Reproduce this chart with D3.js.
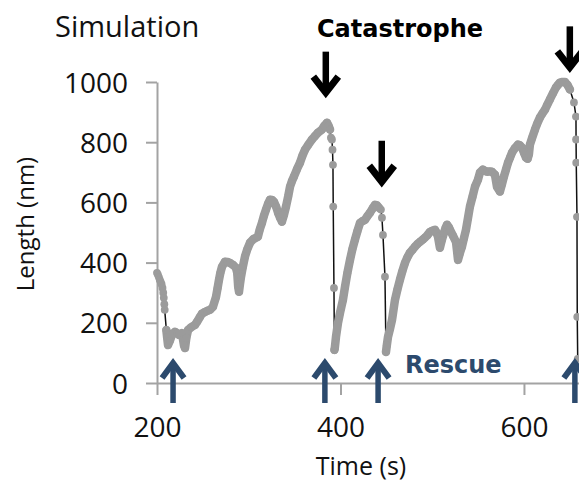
<!DOCTYPE html>
<html>
<head>
<meta charset="utf-8">
<script src="https://cdn.jsdelivr.net/npm/d3@7"></script>
<style>
  html, body { margin: 0; padding: 0; background: #fff; }
  svg { display: block; }
</style>
</head>
<body>
<svg id="chart" width="579" height="483"></svg>
<script>
// ---- data (time in s, length in nm) ----
const shrinkA = [[200,366],[201,360],[202,352],[203,343],[204,336],[205,328],[206,316],[206.8,300],[207.4,283],[208,262],[208.4,243],[210.2,176]];
const growA = [[210.2,176],[211,153],[212,126],[214,140],[216.3,160],[219.6,170],[222,165],[224,160],[227.2,166],[229.4,125],[230.5,116],[232,150],[233.8,176],[237,185],[241.4,193],[244,205],[246.9,220],[249,230],[252.3,236],[255,240],[257.8,243],[261,253],[264.3,286],[266,315],[267.6,343],[269,365],[270.8,386],[274.1,403],[277,402],[279.6,399],[283,392],[286.1,383],[287.5,365],[288.5,320],[289.4,303],[290.5,330],[291.6,353],[293.5,385],[295.9,420],[298.5,445],[301.4,466],[305,478],[310,486],[312,510],[314.4,532],[316.5,555],[318.8,576],[321,595],[323.2,609],[325.5,608],[327.5,602],[330,585],[331.9,566],[334,550],[336.2,536],[338.5,560],[340.6,586],[343,620],[345,652],[347,670],[349.3,686],[352.5,710],[355.9,732],[358.5,755],[361.3,775],[365,792],[368.9,809],[372,820],[375.5,832],[379.8,842],[382.5,855],[385.3,865],[387,855],[388.6,842]];
const shrinkB = [[388.6,842],[389.6,815],[390.7,809],[391.3,775],[391.8,725],[392.1,586],[392.9,316],[393.4,110]];
const growB = [[393.4,110],[393.8,116],[395.1,153],[397.3,200],[399.5,233],[402.7,276],[404.9,319],[407.5,365],[410.4,409],[413,445],[415.8,476],[418.5,505],[421.3,532],[424,538],[426.7,542],[429.5,555],[432.2,566],[435,580],[437.6,592],[439.8,590],[442,582]];
const shrinkC = [[442,582],[444.1,576],[445.2,549],[446.3,492],[448.5,353],[449.6,103]];
const growC = [[449.6,103],[450.5,125],[451.8,153],[454,180],[456.2,210],[459.4,276],[462,310],[464.8,343],[467.5,372],[470.3,399],[473,418],[475.7,433],[478.5,443],[481.2,453],[484,462],[486.6,469],[489.5,476],[492.1,483],[495,492],[497.5,502],[500,506],[503,509],[504.6,500],[506.3,486],[508.4,449],[510.5,475],[512.8,499],[514.5,515],[516.1,526],[518,518],[519.3,509],[522.5,490],[525.9,469],[527,440],[528.1,409],[530,430],[532.4,453],[534.5,480],[536.8,509],[539,548],[541.1,586],[544,620],[546.6,652],[549.9,676],[552,699],[555.3,709],[557.5,705],[559.7,702],[562.5,703],[565.1,702],[568.4,692],[570.6,652],[573.8,636],[576,660],[578.2,686],[580.5,710],[582.6,732],[585,750],[586.9,765],[590,780],[593.5,792],[595.5,790],[597.8,782],[600,765],[602.2,749],[604,745],[605.4,760],[606.5,792],[609,815],[612,842],[614.5,862],[617.4,882],[620,895],[622.9,908],[625.5,925],[628.3,942],[631.5,962],[634.9,982],[637,990],[639.2,998],[642,1000],[644.7,1000],[647.5,990],[650.1,975]];
const shrinkD = [[650.1,975],[654.5,932],[656.7,885],[656.8,809],[657,732],[657.8,552],[658.1,220],[658.6,80]];

const xTicks = [200, 400, 600];
const yTicks = [0, 200, 400, 600, 800, 1000];

const catastropheTime = [384, 445, 650];
const catastropheTip = [948, 652, 1032];
const rescueTime = [217.5, 383, 441, 655.5];
const rescueTip = [83, 83, 83, 83];

// ---- layout ----
const svg = d3.select("#chart");
const x = d3.scaleLinear().domain([200, 660]).range([157, 579]);
const y = d3.scaleLinear().domain([0, 1000]).range([383, 82]);

const axisColor = "#a3a3a3";
const tickFont = "'Open Sans', sans-serif";

// axes
const gx = svg.append("g").attr("transform", "translate(0,383)")
  .call(d3.axisBottom(x).tickValues(xTicks).tickSize(12).tickSizeOuter(0).tickPadding(22).tickFormat(d3.format("d")));
const gy = svg.append("g").attr("transform", "translate(157,0)")
  .call(d3.axisLeft(y).tickValues(yTicks).tickSize(11).tickSizeOuter(0).tickPadding(18).tickFormat(d3.format("d")));
[gx, gy].forEach(g => {
  g.select(".domain").attr("stroke", axisColor).attr("stroke-width", 2);
  g.selectAll(".tick line").attr("stroke", axisColor).attr("stroke-width", 2);
  g.selectAll(".tick text").attr("fill", "#111").style("font-family", tickFont).style("font-size", "28px");
});
gy.selectAll(".tick text").attr("dy", "0.36em");

// data line
const line = d3.line().x(d => x(d[0])).y(d => y(d[1]));
const allPts = [].concat(shrinkA, growA.slice(1), shrinkB.slice(1), growB.slice(1), shrinkC.slice(1), growC.slice(1), shrinkD.slice(1));
const growth = [growA, growB, growC];
const gray = "#9b9b9b";

svg.append("path").datum(allPts).attr("d", line)
  .attr("fill", "none").attr("stroke", "#111").attr("stroke-width", 1.5);

svg.selectAll("path.grow").data(growth).join("path").attr("class", "grow")
  .attr("d", line).attr("fill", "none").attr("stroke", gray)
  .attr("stroke-width", 8.5).attr("stroke-linecap", "round").attr("stroke-linejoin", "round");

svg.selectAll("circle.pt").data(allPts).join("circle").attr("class", "pt")
  .attr("cx", d => x(d[0])).attr("cy", d => y(d[1])).attr("r", 3.9).attr("fill", gray);

// arrows
function arrow(xp, tipY, dir, color, len, shaftW, half, headH) {
  // dir = +1: pointing down, -1: pointing up
  const g = svg.append("g");
  const tailY = tipY - dir * len;
  g.append("line").attr("x1", xp).attr("x2", xp)
    .attr("y1", tailY).attr("y2", tipY - dir * 5)
    .attr("stroke", color).attr("stroke-width", shaftW);
  g.append("path")
    .attr("d", `M${xp - half},${tipY - dir * (headH + 4)} L${xp},${tipY - dir * 5} L${xp + half},${tipY - dir * (headH + 4)}`)
    .attr("fill", "none").attr("stroke", color).attr("stroke-width", shaftW + 0.5)
    .attr("stroke-linejoin", "miter").attr("stroke-miterlimit", 10);
}
catastropheTime.forEach((t, i) => arrow(x(t), y(catastropheTip[i]), 1, "#000", 46, 6.5, 12.5, 17));
rescueTime.forEach((t, i) => arrow(x(t), y(rescueTip[i]), -1, "#2c4a6d", 45, 5.5, 11, 16));

// texts
svg.append("text").attr("x", 55).attr("y", 37).text("Simulation")
  .style("font-family", tickFont).style("font-size", "29px").attr("fill", "#111");
svg.append("text").attr("x", 317).attr("y", 37).text("Catastrophe")
  .style("font-family", "'DejaVu Sans', sans-serif").style("font-weight", "bold").style("font-size", "24px").attr("fill", "#000");
svg.append("text").attr("x", 405).attr("y", 373).text("Rescue")
  .style("font-family", "'DejaVu Sans', sans-serif").style("font-weight", "bold").style("font-size", "24px").attr("fill", "#2c4a6d");
svg.append("text").attr("x", 361).attr("y", 475).attr("text-anchor", "middle").text("Time (s)")
  .style("font-family", tickFont).style("font-size", "25px").attr("fill", "#111");
svg.append("text").attr("transform", "translate(34,224) rotate(-90)").attr("text-anchor", "middle").text("Length (nm)")
  .style("font-family", tickFont).style("font-size", "24px").attr("fill", "#111");
</script>
</body>
</html>
